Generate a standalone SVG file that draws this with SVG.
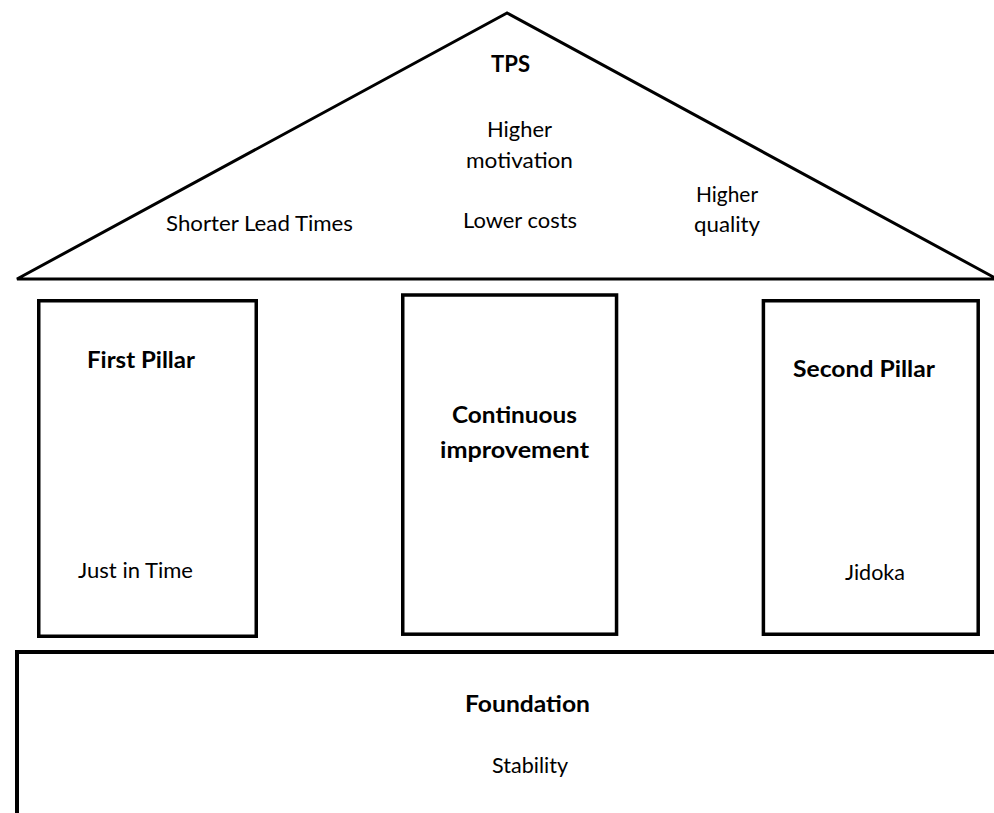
<svg xmlns="http://www.w3.org/2000/svg" width="994" height="813" viewBox="0 0 994 813">
  <style>
    .shape { fill: none; stroke: #000; stroke-linejoin: miter; }
    .roof { stroke-width: 3; }
    .pillar { stroke-width: 3.5; }
    .base { stroke-width: 4; }
    text { font-family: Lato, "Open Sans", sans-serif; font-size: 22px; fill: #000; }
    .bold { font-weight: bold; }
  </style>
  <rect x="0" y="0" width="994" height="813" fill="#fff"/>

  <!-- Roof -->
  <g id="roof">
    <polygon class="shape roof" points="507,13 17,279 997,279"/>
    <text class="bold" x="491" y="72" textLength="39" lengthAdjust="spacingAndGlyphs">TPS</text>
    <text x="487" y="137" textLength="65" lengthAdjust="spacingAndGlyphs">Higher</text>
    <text x="466" y="168" textLength="107" lengthAdjust="spacingAndGlyphs">motivation</text>
    <text x="166" y="231" textLength="187" lengthAdjust="spacingAndGlyphs">Shorter Lead Times</text>
    <text x="463" y="228" textLength="114" lengthAdjust="spacingAndGlyphs">Lower costs</text>
    <text x="696" y="202" textLength="62" lengthAdjust="spacingAndGlyphs">Higher</text>
    <text x="694" y="232" textLength="66" lengthAdjust="spacingAndGlyphs">quality</text>
  </g>

  <!-- First pillar -->
  <g id="first-pillar">
    <rect class="shape pillar" x="38.75" y="300.75" width="217.5" height="335.5"/>
    <text class="bold" x="87" y="368" textLength="108" lengthAdjust="spacingAndGlyphs">First Pillar</text>
    <text x="78" y="578" textLength="115" lengthAdjust="spacingAndGlyphs">Just in Time</text>
  </g>

  <!-- Centre pillar -->
  <g id="continuous-improvement">
    <rect class="shape pillar" x="402.75" y="295" width="213.8" height="339.2"/>
    <text class="bold" x="452" y="423" textLength="125" lengthAdjust="spacingAndGlyphs">Continuous</text>
    <text class="bold" x="440" y="458" textLength="149" lengthAdjust="spacingAndGlyphs">improvement</text>
  </g>

  <!-- Second pillar -->
  <g id="second-pillar">
    <rect class="shape pillar" x="763.4" y="300.75" width="214.8" height="333.5"/>
    <text class="bold" x="793" y="377" textLength="142" lengthAdjust="spacingAndGlyphs">Second Pillar</text>
    <text x="845" y="580" textLength="60" lengthAdjust="spacingAndGlyphs">Jidoka</text>
  </g>

  <!-- Foundation -->
  <g id="foundation">
    <path class="shape base" d="M17,820 V652 H1000"/>
    <text class="bold" x="465" y="712" textLength="125" lengthAdjust="spacingAndGlyphs">Foundation</text>
    <text x="492" y="773" textLength="76" lengthAdjust="spacingAndGlyphs">Stability</text>
  </g>

  <g id="connectors"/>
</svg>
